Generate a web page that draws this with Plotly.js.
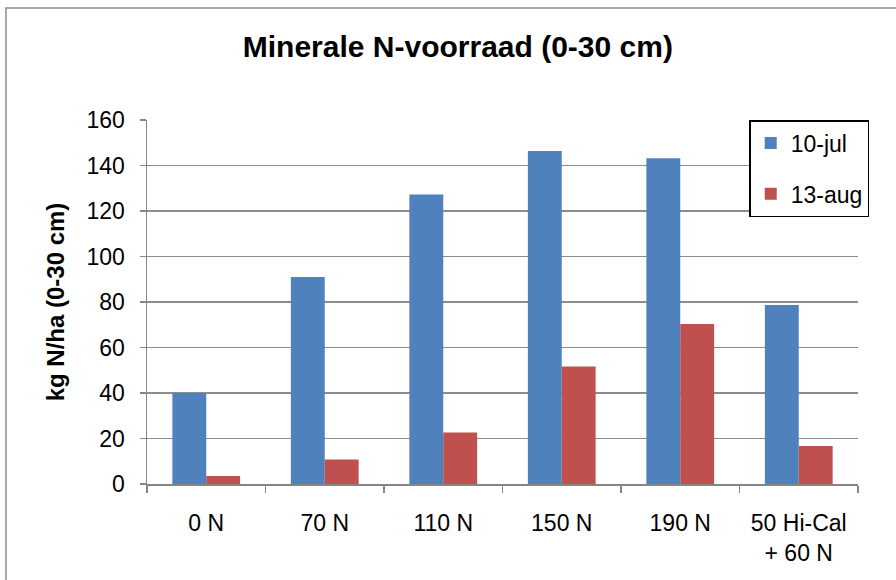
<!DOCTYPE html>
<html>
<head>
<meta charset="utf-8">
<script src="https://cdn.plot.ly/plotly-3.0.1.min.js"></script>
<style>body{margin:0;padding:0;background:#fff}#chart{width:896px;height:580px}</style>
</head>
<body>
<div id="chart"></div>
<script>
const categories = ["0 N", "70 N", "110 N", "150 N", "190 N", "50 Hi-Cal<br>+ 60 N"];
const seriesNames = ["10-jul", "13-aug"];
const jul10 = [40, 91, 127.3, 146.4, 143.2, 78.7];
const aug13 = [3.5, 10.8, 22.6, 51.6, 70.3, 16.7];
const yTicks = [0, 20, 40, 60, 80, 100, 120, 140, 160];

const FONT = "Liberation Sans, Arial, sans-serif";
const traces = [
  {type: "bar", name: seriesNames[0], x: categories, y: jul10, legendgroup: "a",
   marker: {color: "#4F81BD", line: {width: 0}}},
  {type: "bar", name: seriesNames[1], x: categories, y: aug13, legendgroup: "b",
   marker: {color: "#C0504D", line: {width: 0}}}
];
const layout = {
  width: 896, height: 580,
  margin: {l: 147, r: 38, t: 120, b: 96},
  paper_bgcolor: "#fff", plot_bgcolor: "#fff",
  font: {family: FONT, color: "#000", size: 23},
  title: {text: "<b>Minerale N-voorraad (0-30 cm)</b>", font: {family: FONT, size: 30, color: "#000"},
          x: 0.511, xanchor: "center", y: 0.92, yanchor: "middle", xref: "container", yref: "container"},
  barmode: "group", bargap: 0.428, bargroupgap: 0,
  showlegend: true,
  legend: {x: 0.847, xanchor: "left", y: 1, yanchor: "top", bordercolor: "#000", borderwidth: 1.5,
           bgcolor: "#fff", font: {size: 23, family: FONT}, traceorder: "grouped", tracegroupgap: 18,
           itemwidth: 30},
  xaxis: {type: "category", showline: true, linecolor: "#868686", linewidth: 1.5,
          ticks: "outside", tickson: "boundaries", ticklen: 7, tickcolor: "#868686", tickwidth: 1.5,
          tickfont: {size: 23, family: FONT}, ticklabelstandoff: 18, showgrid: false},
  yaxis: {range: [0, 160], tickvals: yTicks, showline: true, linecolor: "#868686", linewidth: 1.5,
          ticks: "outside", ticklen: 6, tickcolor: "#868686", tickwidth: 1.5,
          showgrid: true, gridcolor: "#8c8c8c", gridwidth: 1.4, zeroline: false,
          tickfont: {size: 23, family: FONT}, ticklabelstandoff: 10,
          title: {text: "<b>kg N/ha (0-30 cm)</b>", font: {size: 24, family: FONT}, standoff: 15}},
  shapes: [{type: "rect", xref: "paper", yref: "paper", x0: -0.1983, x1: 1.2, y0: -0.4, y1: 1.3077,
            line: {color: "#8c8c8c", width: 1.5}, fillcolor: "rgba(0,0,0,0)", layer: "below"}]
};
Plotly.newPlot("chart", traces, layout, {displayModeBar: false, staticPlot: true});
</script>
</body>
</html>
